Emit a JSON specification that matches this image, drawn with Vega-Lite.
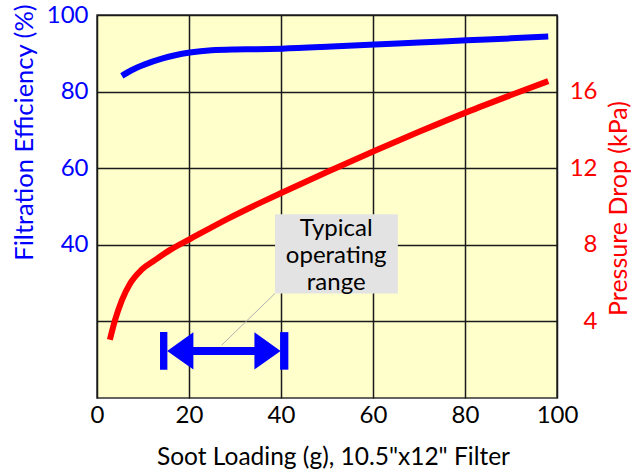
{
  "$schema": "https://vega.github.io/schema/vega-lite/v6.json",
  "width": 460,
  "height": 383,
  "autosize": {"type": "none"},
  "padding": {"left": 97, "top": 15, "right": 74, "bottom": 74},
  "background": "white",
  "config": {
    "font": "Lato",
    "view": {"fill": "#FFFFCC", "stroke": "#333333", "strokeWidth": 1.5}
  },
  "datasets": {
    "blue": [
      {"x": 5.4, "y": 84.1}, {"x": 7.5, "y": 85.57}, {"x": 10.4, "y": 87.1}, {"x": 14.1, "y": 88.6},
      {"x": 17, "y": 89.5}, {"x": 20.2, "y": 90.2}, {"x": 24.9, "y": 90.8}, {"x": 30, "y": 91.0},
      {"x": 34.3, "y": 91.05}, {"x": 40.2, "y": 91.2}, {"x": 51, "y": 91.75}, {"x": 60.4, "y": 92.3},
      {"x": 70, "y": 92.8}, {"x": 80.4, "y": 93.4}, {"x": 90, "y": 93.9}, {"x": 98.1, "y": 94.4}
    ],
    "red": [
      {"x": 2.8, "y": 3.04}, {"x": 3.9, "y": 4.05}, {"x": 5.4, "y": 5.1}, {"x": 7.2, "y": 5.98},
      {"x": 9.7, "y": 6.7}, {"x": 12.6, "y": 7.2}, {"x": 16, "y": 7.75}, {"x": 20.2, "y": 8.3},
      {"x": 28.5, "y": 9.37}, {"x": 35.8, "y": 10.23}, {"x": 39.8, "y": 10.68}, {"x": 50, "y": 11.8},
      {"x": 60.4, "y": 12.91}, {"x": 70, "y": 13.9}, {"x": 80.4, "y": 14.93}, {"x": 90, "y": 15.82},
      {"x": 98.1, "y": 16.55}
    ],
    "leader": [{"x": 38.7, "y": 27.3, "x2": 27.1, "y2": 13.8}],
    "box": [{"x": 38.7, "x2": 65.4, "y": 48.0, "y2": 27.3}],
    "label": [{"x": 52.0, "y": 44.05, "text": "Typical\noperating\nrange"}],
    "bars": [{"x": 13.7, "x2": 15.3, "y": 17.2, "y2": 7.4}, {"x": 39.8, "x2": 41.6, "y": 17.2, "y2": 7.4}],
    "shaft": [{"x": 18, "x2": 37, "y": 12.3}],
    "heads": [{"x": 18.1, "y": 12.3, "dir": "left"}, {"x": 37.07, "y": 12.3, "dir": "right"}]
  },
  "encoding": {
    "x": {
      "field": "x", "type": "quantitative",
      "scale": {"domain": [0, 100]},
      "axis": {
        "values": [0, 20, 40, 60, 80, 100],
        "grid": true, "gridColor": "#1a1a1a", "gridWidth": 1.5,
        "domain": false, "ticks": false, "labelFlush": false,
        "labelFont": "Lato", "labelFontSize": 24, "labelColor": "black", "labelPadding": 5,
        "title": "Soot Loading (g), 10.5\"x12\" Filter",
        "titleFont": "Lato", "titleFontSize": 24.5, "titleFontWeight": "normal", "titleColor": "black",
        "titleX": 236, "titleY": 66, "titleBaseline": "alphabetic"
      }
    }
  },
  "layer": [
    {
      "encoding": {
        "y": {
          "field": "y", "type": "quantitative",
          "scale": {"domain": [0, 100]},
          "axis": {
            "orient": "left",
            "values": [20, 40, 60, 80, 100],
            "labelExpr": "datum.value == 20 ? '' : datum.label",
            "grid": true, "gridColor": "#1a1a1a", "gridWidth": 1.5,
            "domain": false, "ticks": false, "labelFlush": false,
            "labelFont": "Lato", "labelFontSize": 24, "labelColor": "#0000FF", "labelPadding": 9,
            "title": "Filtration Efficiency (%)",
            "titleFont": "Lato", "titleFontSize": 25.5, "titleFontWeight": "normal", "titleColor": "#0000FF",
            "titleAngle": 270, "titleX": -65, "titleY": 117, "titleBaseline": "alphabetic", "titleAlign": "center"
          }
        }
      },
      "layer": [
        {
          "data": {"name": "blue"},
          "mark": {"type": "line", "color": "#0000FF", "strokeWidth": 6, "interpolate": "monotone", "strokeCap": "butt"}
        },
        {
          "data": {"name": "leader"},
          "mark": {"type": "rule", "color": "#b0b0b0", "strokeWidth": 1},
          "encoding": {"x2": {"field": "x2"}, "y2": {"field": "y2"}}
        },
        {
          "data": {"name": "box"},
          "mark": {"type": "rect", "color": "#E3E3E3", "opacity": 1},
          "encoding": {"x2": {"field": "x2"}, "y2": {"field": "y2"}}
        },
        {
          "data": {"name": "label"},
          "mark": {"type": "text", "font": "Lato", "fontSize": 24, "color": "black", "align": "center", "baseline": "middle", "lineBreak": "\n", "lineHeight": 27},
          "encoding": {"text": {"field": "text"}}
        },
        {
          "data": {"name": "bars"},
          "mark": {"type": "rect", "color": "#0000FF", "opacity": 1},
          "encoding": {"x2": {"field": "x2"}, "y2": {"field": "y2"}}
        },
        {
          "data": {"name": "shaft"},
          "mark": {"type": "rule", "color": "#0000FF", "strokeWidth": 8},
          "encoding": {"x2": {"field": "x2"}}
        },
        {
          "data": {"name": "heads"},
          "mark": {"type": "point", "filled": true, "color": "#0000FF", "opacity": 1, "size": 1400, "strokeWidth": 0},
          "encoding": {
            "shape": {
              "field": "dir", "type": "nominal",
              "scale": {"domain": ["left", "right"], "range": ["M-0.7,0 L0.7,-1 L0.7,1 Z", "M0.7,0 L-0.7,-1 L-0.7,1 Z"]},
              "legend": null
            }
          }
        }
      ]
    },
    {
      "data": {"name": "red"},
      "mark": {"type": "line", "color": "#FF0000", "strokeWidth": 6, "interpolate": "monotone", "strokeCap": "butt"},
      "encoding": {
        "y": {
          "field": "y", "type": "quantitative",
          "scale": {"domain": [0, 20]},
          "axis": {
            "orient": "right",
            "values": [4, 8, 12, 16],
            "grid": false, "domain": false, "ticks": false, "labelFlush": false,
            "labelFont": "Lato", "labelFontSize": 24, "labelColor": "#FF0000", "labelPadding": 40, "labelAlign": "right",
            "title": "Pressure Drop (kPa)",
            "titleFont": "Lato", "titleFontSize": 25, "titleFontWeight": "normal", "titleColor": "#FF0000",
            "titleAngle": 270, "titleX": 69, "titleY": 193, "titleBaseline": "alphabetic", "titleAlign": "center"
          }
        }
      }
    }
  ],
  "resolve": {"scale": {"y": "independent"}}
}
